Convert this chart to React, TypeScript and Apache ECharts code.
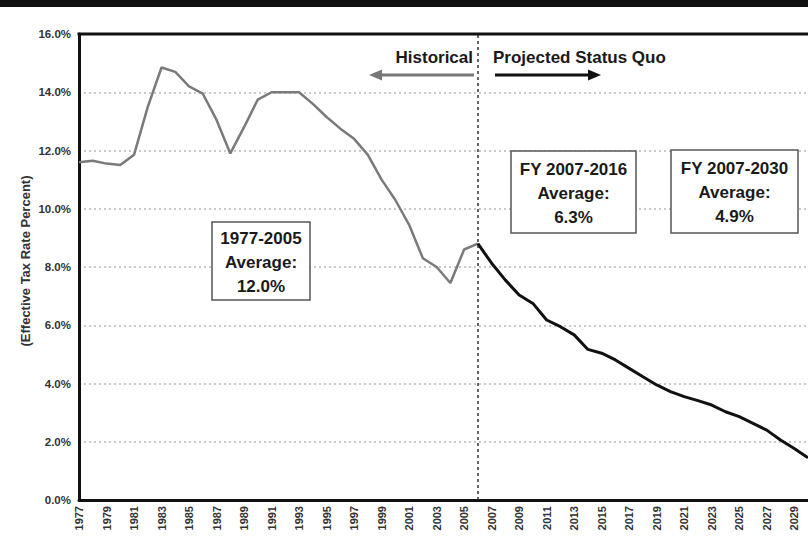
import React, { useEffect, useRef } from "react";
import * as echarts from "echarts";

// Fiscal years on the category axis
const years: string[] = [];
for (let y = 1977; y <= 2030; y++) years.push(String(y));

// Effective tax rate (%), historical 1977-2006
const historical: number[] = [
  11.6, 11.65, 11.55, 11.5, 11.85, 13.5, 14.85, 14.7, 14.2, 13.95,
  13.05, 11.9, 12.8, 13.75, 14.0, 14.0, 14.0, 13.6, 13.15, 12.75,
  12.4, 11.85, 11.0, 10.3, 9.45, 8.3, 8.0, 7.45, 8.6, 8.8,
];

// Effective tax rate (%), projected status quo 2006-2030
const projected: number[] = [
  8.8, 8.13, 7.55, 7.04, 6.75, 6.18, 5.95, 5.67, 5.17, 5.04,
  4.81, 4.52, 4.23, 3.95, 3.72, 3.55, 3.41, 3.26, 3.03, 2.86,
  2.63, 2.4, 2.06, 1.77, 1.45,
];

const splitYear = "2006";

const avgHistorical = "1977-2005\nAverage:\n12.0%";
const avgNear = "FY 2007-2016\nAverage:\n6.3%";
const avgLong = "FY 2007-2030\nAverage:\n4.9%";

const FONT = "'Liberation Sans', Arial, sans-serif";

export default function App() {
  const ref = useRef<HTMLDivElement>(null);

  useEffect(() => {
    if (!ref.current) return;
    const chart = echarts.init(ref.current, undefined, { renderer: "svg" });

    const splitIdx = years.indexOf(splitYear);
    const histData = years.map((_, i) => (i < historical.length ? historical[i] : null));
    const projData = years.map((_, i) =>
      i >= splitIdx && i - splitIdx < projected.length ? projected[i - splitIdx] : null
    );

    const boxText = (cx: number, cy: number, text: string) => ({
      type: "text",
      x: cx,
      y: cy,
      z: 10,
      style: {
        text,
        fill: "#1a1a1a",
        font: `bold 17px ${FONT}`,
        align: "center",
        verticalAlign: "middle",
        lineHeight: 24,
      },
    });
    const boxRect = (x: number, y: number, w: number, h: number) => ({
      type: "rect",
      z: 9,
      shape: { x, y, width: w, height: h },
      style: { fill: "#fff", stroke: "#555", lineWidth: 1.5 },
    });

    chart.setOption({
      animation: false,
      backgroundColor: "#fff",
      grid: {
        left: 79,
        top: 34,
        bottom: 42,
        right: -9,
        show: false,
      },
      xAxis: {
        type: "category",
        data: years,
        boundaryGap: false,
        axisLine: { show: true, lineStyle: { color: "#111", width: 3 } },
        axisTick: { show: false },
        axisLabel: {
          interval: 1,
          rotate: 90,
          margin: 6,
          fontSize: 11,
          fontWeight: "bold",
          fontFamily: FONT,
          color: "#333",
        },
        splitLine: { show: false },
      },
      yAxis: {
        type: "value",
        min: 0,
        max: 16,
        interval: 2,
        axisLine: { show: true, lineStyle: { color: "#111", width: 3 } },
        axisTick: { show: false },
        axisLabel: {
          margin: 8,
          fontSize: 11.5,
          fontWeight: "bold",
          fontFamily: FONT,
          color: "#333",
          formatter: (v: number) => v.toFixed(1) + "%",
        },
        splitLine: {
          show: true,
          lineStyle: { color: "#b8b8b8", width: 1.5, type: [2, 3] },
        },
      },
      series: [
        {
          name: "Historical",
          type: "line",
          data: histData,
          showSymbol: false,
          connectNulls: false,
          lineStyle: { color: "#7a7a7a", width: 2.5 },
          z: 3,
        },
        {
          name: "Projected Status Quo",
          type: "line",
          data: projData,
          showSymbol: false,
          connectNulls: false,
          lineStyle: { color: "#111", width: 3 },
          z: 4,
          markLine: {
            silent: true,
            symbol: "none",
            label: { show: false },
            lineStyle: { color: "#333", width: 1.5, type: [3, 3] },
            data: [{ xAxis: splitYear }],
          },
        },
      ],
      graphic: [
        // dark band along the top edge
        {
          type: "rect",
          shape: { x: 0, y: 0, width: 808, height: 7 },
          style: { fill: "#111" },
        },
        // top frame edge of the plot area
        {
          type: "line",
          z: 20,
          shape: { x1: 77.5, y1: 34, x2: 808, y2: 34 },
          style: { stroke: "#111", lineWidth: 3 },
        },
        // y axis title
        {
          type: "text",
          x: 25,
          y: 261,
          rotation: Math.PI / 2,
          style: {
            text: "(Effective Tax Rate Percent)",
            fill: "#333",
            font: `bold 13px ${FONT}`,
            align: "center",
            verticalAlign: "middle",
          },
        },
        // period labels and arrows
        {
          type: "text",
          x: 473,
          y: 57,
          style: {
            text: "Historical",
            fill: "#1a1a1a",
            font: `bold 17px ${FONT}`,
            align: "right",
            verticalAlign: "middle",
          },
        },
        {
          type: "text",
          x: 493,
          y: 57,
          style: {
            text: "Projected Status Quo",
            fill: "#1a1a1a",
            font: `bold 17px ${FONT}`,
            align: "left",
            verticalAlign: "middle",
          },
        },
        {
          type: "line",
          shape: { x1: 474, y1: 75, x2: 378, y2: 75 },
          style: { stroke: "#777", lineWidth: 3 },
        },
        {
          type: "polygon",
          shape: { points: [[369, 75], [382, 69.5], [382, 80.5]] },
          style: { fill: "#777" },
        },
        {
          type: "line",
          shape: { x1: 495, y1: 75, x2: 590, y2: 75 },
          style: { stroke: "#111", lineWidth: 3 },
        },
        {
          type: "polygon",
          shape: { points: [[601, 75], [588, 69.5], [588, 80.5]] },
          style: { fill: "#111" },
        },
        // average call-outs
        boxRect(212, 222, 98, 78),
        boxText(261, 262, avgHistorical),
        boxRect(511, 151, 125, 82),
        boxText(573.5, 193, avgNear),
        boxRect(671, 150, 127, 83),
        boxText(734.5, 192, avgLong),
      ],
    });

    return () => chart.dispose();
  }, []);

  return (
    <div
      ref={ref}
      style={{ position: "fixed", left: 0, top: 0, width: 808, height: 542 }}
    />
  );
}
